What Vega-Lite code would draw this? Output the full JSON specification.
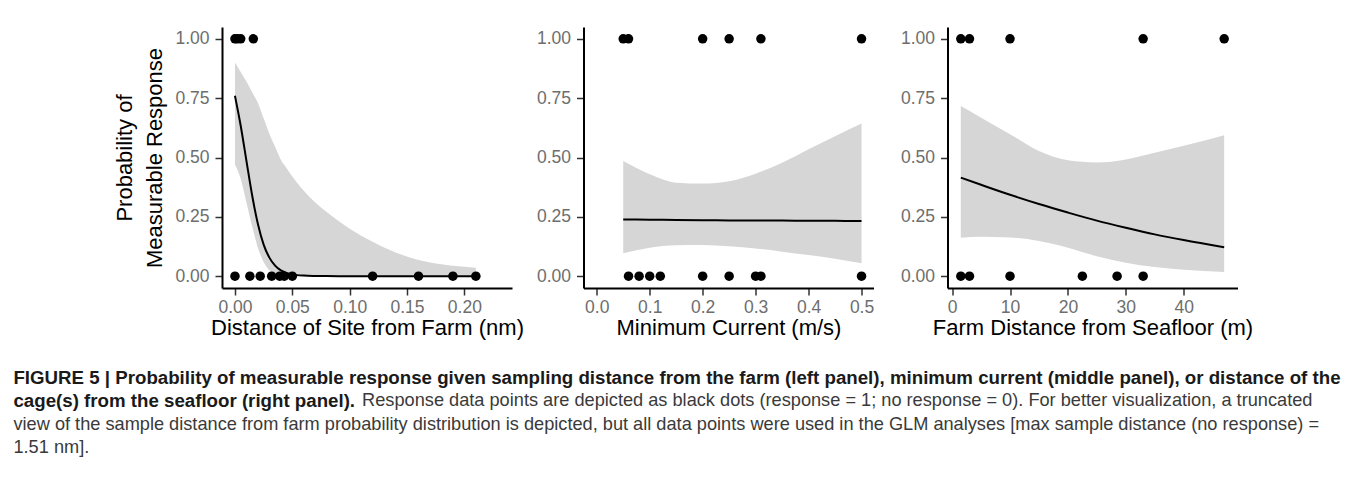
{
  "$schema": "https://vega.github.io/schema/vega-lite/v6.json",
  "padding": {"left": 13, "top": 27, "right": 0, "bottom": 5},
  "background": "white",
  "title": {
    "text": ["FIGURE 5 | Probability of measurable response given sampling distance from the farm (left panel), minimum current (middle panel), or distance of the", "cage(s) from the seafloor (right panel)."],
    "subtitle": ["\u200b\u00a0\u00a0\u00a0\u00a0\u00a0\u00a0\u00a0\u00a0\u00a0\u00a0\u00a0\u00a0\u00a0\u00a0\u00a0\u00a0\u00a0\u00a0\u00a0\u00a0\u00a0\u00a0\u00a0\u00a0\u00a0\u00a0\u00a0\u00a0\u00a0\u00a0\u00a0\u00a0\u00a0\u00a0\u00a0\u00a0\u00a0\u00a0\u00a0\u00a0\u00a0\u00a0\u00a0\u00a0\u00a0\u00a0\u00a0\u00a0\u00a0\u00a0\u00a0\u00a0\u00a0\u00a0\u00a0\u00a0\u00a0\u00a0\u00a0\u00a0\u00a0\u00a0\u00a0\u00a0\u00a0\u00a0\u00a0\u00a0\u00a0Response data points are depicted as black dots (response = 1; no response = 0). For better visualization, a truncated", "view of the sample distance from farm probability distribution is depicted, but all data points were used in the GLM analyses [max sample distance (no response) =", "1.51 nm]."],
    "orient": "bottom",
    "anchor": "start",
    "frame": "bounds",
    "dx": -100,
    "offset": 31,
    "font": "Liberation Sans",
    "fontSize": 18.7,
    "fontWeight": "bold",
    "color": "#1a1a1a",
    "lineHeight": 23.3,
    "subtitleFont": "Liberation Sans",
    "subtitleFontSize": 18.2,
    "subtitleFontWeight": "normal",
    "subtitleColor": "#3a3a3a",
    "subtitleLineHeight": 23.3,
    "subtitlePadding": -18.7
  },
  "datasets": {
    "points": [
      {"panel": "A", "x": 0.000, "y": 1}, {"panel": "A", "x": 0.002, "y": 1}, {"panel": "A", "x": 0.005, "y": 1}, {"panel": "A", "x": 0.016, "y": 1},
      {"panel": "A", "x": 0.000, "y": 0}, {"panel": "A", "x": 0.013, "y": 0}, {"panel": "A", "x": 0.022, "y": 0}, {"panel": "A", "x": 0.032, "y": 0},
      {"panel": "A", "x": 0.039, "y": 0}, {"panel": "A", "x": 0.043, "y": 0}, {"panel": "A", "x": 0.050, "y": 0}, {"panel": "A", "x": 0.120, "y": 0},
      {"panel": "A", "x": 0.160, "y": 0}, {"panel": "A", "x": 0.190, "y": 0}, {"panel": "A", "x": 0.210, "y": 0},
      {"panel": "B", "x": 0.05, "y": 1}, {"panel": "B", "x": 0.06, "y": 1}, {"panel": "B", "x": 0.20, "y": 1}, {"panel": "B", "x": 0.25, "y": 1},
      {"panel": "B", "x": 0.31, "y": 1}, {"panel": "B", "x": 0.50, "y": 1},
      {"panel": "B", "x": 0.06, "y": 0}, {"panel": "B", "x": 0.08, "y": 0}, {"panel": "B", "x": 0.10, "y": 0}, {"panel": "B", "x": 0.12, "y": 0},
      {"panel": "B", "x": 0.20, "y": 0}, {"panel": "B", "x": 0.25, "y": 0}, {"panel": "B", "x": 0.30, "y": 0}, {"panel": "B", "x": 0.31, "y": 0},
      {"panel": "B", "x": 0.50, "y": 0},
      {"panel": "C", "x": 1.5, "y": 1}, {"panel": "C", "x": 3, "y": 1}, {"panel": "C", "x": 10, "y": 1}, {"panel": "C", "x": 33, "y": 1}, {"panel": "C", "x": 47, "y": 1},
      {"panel": "C", "x": 1.5, "y": 0}, {"panel": "C", "x": 3, "y": 0}, {"panel": "C", "x": 10, "y": 0}, {"panel": "C", "x": 22.5, "y": 0},
      {"panel": "C", "x": 28.5, "y": 0}, {"panel": "C", "x": 33, "y": 0}
    ],
    "fit": [
      {"panel": "A", "x": 0.000, "p": 0.760, "lo": 0.47, "hi": 0.90},
      {"panel": "A", "x": 0.005, "p": 0.634, "lo": 0.41, "hi": 0.86},
      {"panel": "A", "x": 0.010, "p": 0.486, "lo": 0.31, "hi": 0.82},
      {"panel": "A", "x": 0.015, "p": 0.340, "lo": 0.21, "hi": 0.775},
      {"panel": "A", "x": 0.020, "p": 0.220, "lo": 0.12, "hi": 0.73},
      {"panel": "A", "x": 0.025, "p": 0.133, "lo": 0.06, "hi": 0.665},
      {"panel": "A", "x": 0.030, "p": 0.078, "lo": 0.025, "hi": 0.60},
      {"panel": "A", "x": 0.035, "p": 0.044, "lo": 0.008, "hi": 0.545},
      {"panel": "A", "x": 0.040, "p": 0.024, "lo": 0.002, "hi": 0.49},
      {"panel": "A", "x": 0.045, "p": 0.0135, "lo": 0.0005, "hi": 0.455},
      {"panel": "A", "x": 0.050, "p": 0.0074, "lo": 0, "hi": 0.42},
      {"panel": "A", "x": 0.060, "p": 0.0022, "lo": 0, "hi": 0.36},
      {"panel": "A", "x": 0.070, "p": 0.0007, "lo": 0, "hi": 0.31},
      {"panel": "A", "x": 0.080, "p": 0.0002, "lo": 0, "hi": 0.27},
      {"panel": "A", "x": 0.100, "p": 0, "lo": 0, "hi": 0.20},
      {"panel": "A", "x": 0.120, "p": 0, "lo": 0, "hi": 0.145},
      {"panel": "A", "x": 0.140, "p": 0, "lo": 0, "hi": 0.10},
      {"panel": "A", "x": 0.160, "p": 0, "lo": 0, "hi": 0.068},
      {"panel": "A", "x": 0.180, "p": 0, "lo": 0, "hi": 0.05},
      {"panel": "A", "x": 0.210, "p": 0, "lo": 0, "hi": 0.035},
      {"panel": "B", "x": 0.05, "p": 0.239, "lo": 0.096, "hi": 0.485},
      {"panel": "B", "x": 0.10, "p": 0.238, "lo": 0.120, "hi": 0.429},
      {"panel": "B", "x": 0.15, "p": 0.237, "lo": 0.130, "hi": 0.394},
      {"panel": "B", "x": 0.20, "p": 0.236, "lo": 0.131, "hi": 0.390},
      {"panel": "B", "x": 0.25, "p": 0.235, "lo": 0.126, "hi": 0.400},
      {"panel": "B", "x": 0.30, "p": 0.234, "lo": 0.117, "hi": 0.432},
      {"panel": "B", "x": 0.35, "p": 0.234, "lo": 0.103, "hi": 0.478},
      {"panel": "B", "x": 0.40, "p": 0.233, "lo": 0.089, "hi": 0.535},
      {"panel": "B", "x": 0.45, "p": 0.233, "lo": 0.073, "hi": 0.590},
      {"panel": "B", "x": 0.50, "p": 0.232, "lo": 0.054, "hi": 0.643},
      {"panel": "C", "x": 1.5, "p": 0.415, "lo": 0.162, "hi": 0.717},
      {"panel": "C", "x": 5, "p": 0.385, "lo": 0.166, "hi": 0.668},
      {"panel": "C", "x": 10, "p": 0.343, "lo": 0.163, "hi": 0.598},
      {"panel": "C", "x": 15, "p": 0.304, "lo": 0.148, "hi": 0.527},
      {"panel": "C", "x": 20, "p": 0.268, "lo": 0.120, "hi": 0.488},
      {"panel": "C", "x": 25, "p": 0.234, "lo": 0.084, "hi": 0.479},
      {"panel": "C", "x": 30, "p": 0.204, "lo": 0.056, "hi": 0.492},
      {"panel": "C", "x": 35, "p": 0.176, "lo": 0.038, "hi": 0.520},
      {"panel": "C", "x": 40, "p": 0.152, "lo": 0.027, "hi": 0.549},
      {"panel": "C", "x": 47, "p": 0.122, "lo": 0.017, "hi": 0.594}
    ]
  },
  "spacing": 11.5,
  "hconcat": [
    {
      "width": 290, "height": 261,
      "layer": [
        {"data": {"name": "fit"}, "transform": [{"filter": "datum.panel == 'A'"}], "mark": {"type": "area", "color": "#d6d6d6", "interpolate": "monotone"},
         "encoding": {"x": {"field": "x", "type": "quantitative", "scale": {"domain": [-0.0113, 0.2415], "nice": false, "zero": false},
                            "axis": {"values": [0, 0.05, 0.1, 0.15, 0.2], "format": ".2f", "title": "Distance of Site from Farm (nm)"}},
                      "y": {"field": "lo", "type": "quantitative", "scale": {"domain": [-0.05, 1.05], "nice": false, "zero": false},
                            "axis": {"values": [0, 0.25, 0.5, 0.75, 1], "format": ".2f", "title": ["Probability of", "Measurable Response"]}},
                      "y2": {"field": "hi"}}},
        {"data": {"name": "fit"}, "transform": [{"filter": "datum.panel == 'A'"}], "mark": {"type": "line", "color": "black", "strokeWidth": 2, "interpolate": "monotone"},
         "encoding": {"x": {"field": "x", "type": "quantitative"}, "y": {"field": "p", "type": "quantitative"}}},
        {"data": {"name": "points"}, "transform": [{"filter": "datum.panel == 'A'"}], "mark": {"type": "circle", "color": "black", "opacity": 1, "size": 90},
         "encoding": {"x": {"field": "x", "type": "quantitative"}, "y": {"field": "y", "type": "quantitative"}}}
      ]
    },
    {
      "spacing": 25,
      "hconcat": [
        {
          "width": 290, "height": 261,
          "layer": [
            {"data": {"name": "fit"}, "transform": [{"filter": "datum.panel == 'B'"}], "mark": {"type": "area", "color": "#d6d6d6", "interpolate": "monotone"},
             "encoding": {"x": {"field": "x", "type": "quantitative", "scale": {"domain": [-0.025, 0.5226], "nice": false, "zero": false},
                                "axis": {"values": [0, 0.1, 0.2, 0.3, 0.4, 0.5], "format": ".1f", "title": "Minimum Current (m/s)"}},
                          "y": {"field": "lo", "type": "quantitative", "scale": {"domain": [-0.05, 1.05], "nice": false, "zero": false},
                                "axis": {"values": [0, 0.25, 0.5, 0.75, 1], "format": ".2f", "title": null}},
                          "y2": {"field": "hi"}}},
            {"data": {"name": "fit"}, "transform": [{"filter": "datum.panel == 'B'"}], "mark": {"type": "line", "color": "black", "strokeWidth": 2, "interpolate": "monotone"},
             "encoding": {"x": {"field": "x", "type": "quantitative"}, "y": {"field": "p", "type": "quantitative"}}},
            {"data": {"name": "points"}, "transform": [{"filter": "datum.panel == 'B'"}], "mark": {"type": "circle", "color": "black", "opacity": 1, "size": 90},
             "encoding": {"x": {"field": "x", "type": "quantitative"}, "y": {"field": "y", "type": "quantitative"}}}
          ]
        },
        {
          "width": 290, "height": 261,
          "layer": [
            {"data": {"name": "fit"}, "transform": [{"filter": "datum.panel == 'C'"}], "mark": {"type": "area", "color": "#d6d6d6", "interpolate": "monotone"},
             "encoding": {"x": {"field": "x", "type": "quantitative", "scale": {"domain": [-0.8, 49.3], "nice": false, "zero": false},
                                "axis": {"values": [0, 10, 20, 30, 40], "format": "d", "title": "Farm Distance from Seafloor (m)"}},
                          "y": {"field": "lo", "type": "quantitative", "scale": {"domain": [-0.05, 1.05], "nice": false, "zero": false},
                                "axis": {"values": [0, 0.25, 0.5, 0.75, 1], "format": ".2f", "title": null}},
                          "y2": {"field": "hi"}}},
            {"data": {"name": "fit"}, "transform": [{"filter": "datum.panel == 'C'"}], "mark": {"type": "line", "color": "black", "strokeWidth": 2, "interpolate": "monotone"},
             "encoding": {"x": {"field": "x", "type": "quantitative"}, "y": {"field": "p", "type": "quantitative"}}},
            {"data": {"name": "points"}, "transform": [{"filter": "datum.panel == 'C'"}], "mark": {"type": "circle", "color": "black", "opacity": 1, "size": 90},
             "encoding": {"x": {"field": "x", "type": "quantitative"}, "y": {"field": "y", "type": "quantitative"}}}
          ]
        }
      ]
    }
  ],
  "config": {
    "view": {"stroke": null},
    "axis": {
      "grid": false,
      "domainColor": "black", "domainWidth": 2,
      "tickColor": "#333333", "tickWidth": 1.5, "tickSize": 7,
      "labelColor": "#6e6e6e", "labelFont": "Liberation Sans", "labelFontSize": 17.5, "labelPadding": 6,
      "titleFont": "Liberation Sans", "titleFontSize": 22, "titleFontWeight": "normal", "titleColor": "black",
      "titleLineHeight": 30
    },
    "axisX": {"labelPadding": 3, "titlePadding": 1.5},
    "axisY": {"titlePadding": 8.5}
  }
}
